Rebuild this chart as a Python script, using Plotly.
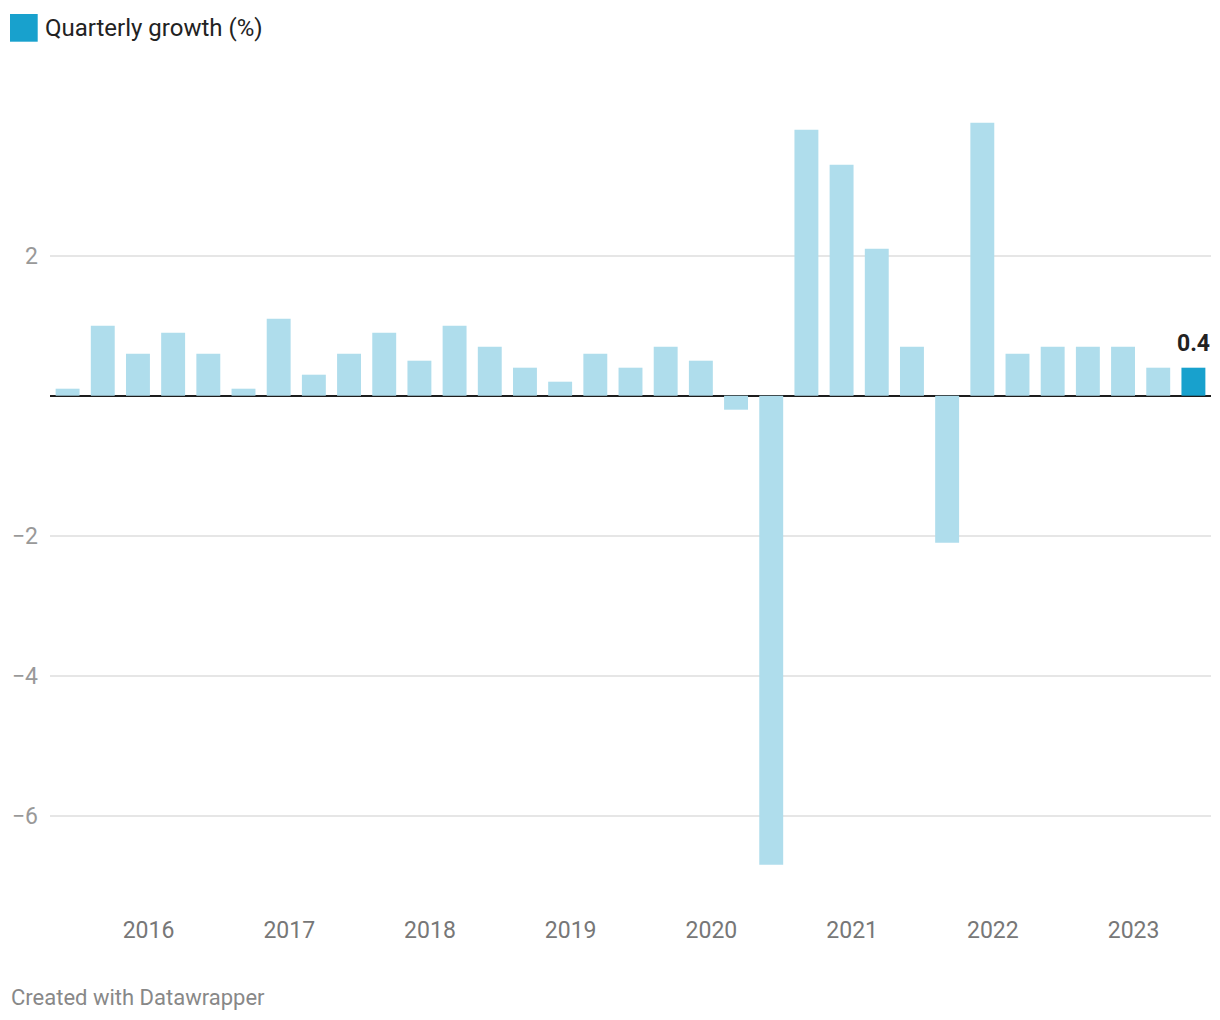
import plotly.graph_objects as go

# Data
quarters = list(range(33))
growth = [0.1, 1.0, 0.6, 0.9, 0.6, 0.1, 1.1, 0.3, 0.6, 0.9, 0.5, 1.0, 0.7, 0.4, 0.2, 0.6,
          0.4, 0.7, 0.5, -0.2, -6.7, 3.8, 3.3, 2.1, 0.7, -2.1, 3.9, 0.6, 0.7, 0.7, 0.7, 0.4, 0.4]
year_labels = ["2016", "2017", "2018", "2019", "2020", "2021", "2022", "2023"]
year_positions = [2.30 + 4 * k for k in range(len(year_labels))]
y_ticks = [-6, -4, -2, 2]
y_ticktext = ["\u22126", "\u22124", "\u22122", "2"]

LIGHT = "#afddec"
DARK = "#18a1cd"
colors = [LIGHT] * (len(growth) - 1) + [DARK]

PW = 1161.0  # plot width
PH = 840.0   # plot height

fig = go.Figure()
fig.add_trace(go.Bar(
    x=quarters, y=growth, marker=dict(color=colors, line=dict(width=0)),
    showlegend=False, hoverinfo="y",
))

fig.add_annotation(x=quarters[-1], y=growth[-1], text="<b>0.4</b>", showarrow=False,
                   xref="x", yref="y", yanchor="bottom", yshift=9,
                   font=dict(family="Roboto", size=23, color="#222222"))

# legend
fig.add_shape(type="rect", xref="paper", yref="paper",
              x0=(10 - 50) / PW, x1=(37.7 - 50) / PW,
              y0=1 + (60 - 41.7) / PH, y1=1 + (60 - 14) / PH,
              fillcolor=DARK, line=dict(width=0))
fig.add_annotation(xref="paper", yref="paper", x=(43 - 50) / PW, y=1 + (60 - 28) / PH,
                   xanchor="left", yanchor="middle", showarrow=False,
                   text="Quarterly growth (%)",
                   font=dict(family="Roboto", size=24, color="#222222"))
fig.add_annotation(xref="paper", yref="paper", x=(9 - 50) / PW, y=-(997 - 900) / PH,
                   xanchor="left", yanchor="middle", showarrow=False,
                   text="Created with Datawrapper",
                   font=dict(family="Roboto", size=22, color="#888888"))

fig.update_layout(
    width=1204, height=1004,
    margin=dict(l=42, r=1, t=52, b=112),
    paper_bgcolor="white", plot_bgcolor="white",
    bargap=0.32,
    font=dict(family="Roboto"),
    xaxis=dict(range=[-0.5, 32.5], tickvals=year_positions, ticktext=year_labels,
               showgrid=False, zeroline=False, ticks="", showline=False,
               tickfont=dict(family="Roboto", size=23, color="#777777"),
               ticklabelstandoff=14),
    yaxis=dict(range=[-(900 - 395.7) / 70, (395.7 - 60) / 70], tickvals=y_ticks,
               ticktext=y_ticktext, showgrid=True, gridcolor="#e6e6e6", gridwidth=1.5,
               zeroline=True, zerolinecolor="#1d1d1d", zerolinewidth=2,
               ticks="", showline=False,
               tickfont=dict(family="Roboto", size=23, color="#999999"),
               ticklabelstandoff=11),
)

fig.write_html("out.html")
